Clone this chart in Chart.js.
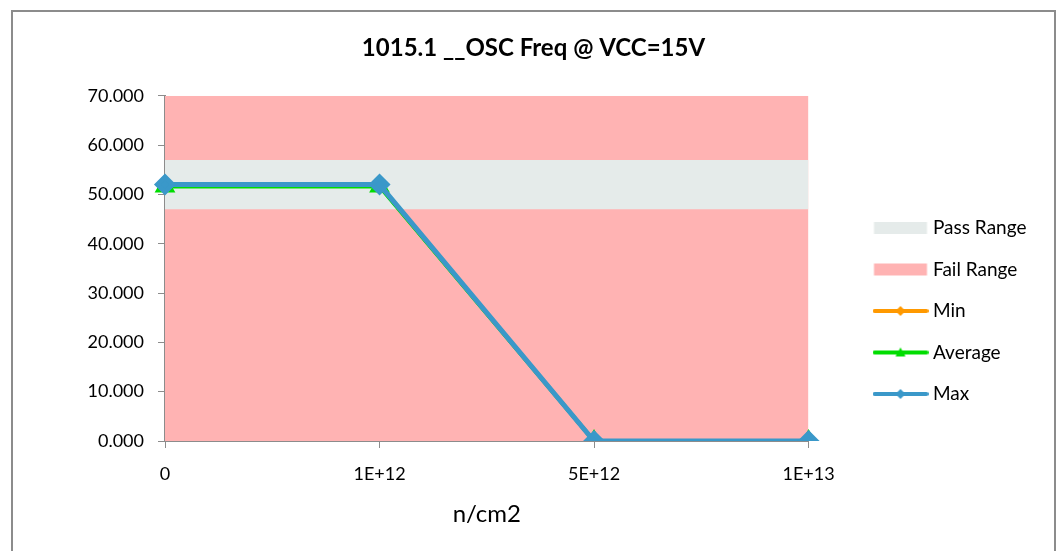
<!DOCTYPE html>
<html>
<head>
<meta charset="utf-8">
<script src="https://cdn.jsdelivr.net/npm/chart.js@4.4.1/dist/chart.umd.min.js"></script>
<style>
  html, body { margin: 0; padding: 0; background: #fff; }
  #wrap { position: relative; width: 1056px; height: 551px; overflow: hidden; }
  #frame { position: absolute; left: 11px; top: 10px; width: 1041px; height: 560px;
           border: 2px solid #8c8c8c; pointer-events: none; }
</style>
</head>
<body>
<div id="wrap">
  <canvas id="chart" width="1056" height="551"></canvas>
  <div id="frame"></div>
</div>
<script>
// data
var categories = ["0", "1E+12", "5E+12", "1E+13"];
var passLow = [47, 47, 47, 47];
var passHigh = [57, 57, 57, 57];
var failTop = [70, 70, 70, 70];
var minValues = [51.8, 51.8, 0, 0];
var avgValues = [51.6, 51.6, 0, 0];
var maxValues = [52.0, 52.0, 0, 0];

var FONT = "Lato, 'Open Sans', sans-serif";

// small images for the legend: line with marker, or a flat box
function legendLine(color, marker) {
	var c = document.createElement("canvas"), ctx;
	c.width = 56; c.height = 16;
	ctx = c.getContext("2d");
	ctx.strokeStyle = color;
	ctx.fillStyle = color;
	ctx.lineWidth = 4;
	ctx.lineCap = "round";
	ctx.beginPath();
	ctx.moveTo(2, 8);
	ctx.lineTo(54, 8);
	ctx.stroke();
	ctx.beginPath();
	if (marker === "triangle") {
		ctx.moveTo(28, 3);
		ctx.lineTo(33, 12);
		ctx.lineTo(23, 12);
	} else {
		ctx.moveTo(28, 3);
		ctx.lineTo(33, 8);
		ctx.lineTo(28, 13);
		ctx.lineTo(23, 8);
	}
	ctx.closePath();
	ctx.fill();
	return c;
}
function legendBox(color) {
	var c = document.createElement("canvas"), ctx;
	c.width = 56; c.height = 16;
	ctx = c.getContext("2d");
	ctx.fillStyle = color;
	ctx.fillRect(1.5, 2, 53, 12);
	return c;
}

var PASS = "#e5ebea", FAIL = "#ffb3b3", ORANGE = "#ff9900", GREEN = "#00dd00", BLUE = "#3a98c9";
var legendImages = [legendBox(PASS), legendBox(FAIL), legendLine(ORANGE, "diamond"),
	legendLine(GREEN, "triangle"), legendLine(BLUE, "diamond")];

// put the legend and title where the reference has them, without moving the plot
var placeBoxes = {
	id: "placeBoxes",
	afterLayout: function (chart) {
		var l = chart.legend, t = chart.titleBlock, w = l.width, h = l.height;
		l.left = 855; l.right = 855 + w;
		l.top = 196; l.bottom = 196 + h;
		t.left = 11; t.right = 1056; t.width = 1045;
	}
};

new Chart(document.getElementById("chart"), {
	type: "line",
	data: {
		labels: categories,
		datasets: [
			{ label: "Pass Range", data: passHigh, fill: { value: passLow[0] }, backgroundColor: PASS,
				borderWidth: 0, pointRadius: 0, order: 3 },
			{ label: "Fail Range", data: failTop, fill: "origin", backgroundColor: FAIL,
				borderWidth: 0, pointRadius: 0, order: 4 },
			{ label: "Min", data: minValues, borderColor: ORANGE, backgroundColor: ORANGE, borderWidth: 4,
				pointStyle: "rectRot", pointRadius: 6, fill: false, order: 2 },
			{ label: "Average", data: avgValues, borderColor: GREEN, backgroundColor: GREEN, borderWidth: 4,
				pointStyle: "triangle", pointRadius: 8, fill: false, order: 1 },
			{ label: "Max", data: maxValues, borderColor: BLUE, backgroundColor: BLUE, borderWidth: 5,
				pointStyle: "rectRot", pointRadius: 7.5, fill: false, order: 0 }
		]
	},
	plugins: [placeBoxes],
	options: {
		responsive: false,
		animation: false,
		layout: { padding: { left: 12, right: 66, top: 10, bottom: 0 } },
		elements: { line: { tension: 0 } },
		plugins: {
			title: {
				display: true,
				text: "1015.1 __OSC Freq @ VCC=15V",
				color: "#000",
				font: { family: FONT, size: 24, weight: "bold" },
				padding: { top: 24, bottom: 33 }
			},
			legend: {
				position: "right",
				align: "start",
				labels: {
					color: "#000",
					font: { family: FONT, size: 19 },
					usePointStyle: true,
					pointStyleWidth: 46,
					padding: 22.5,
					sort: function (a, b) { return a.datasetIndex - b.datasetIndex; },
					generateLabels: function (chart) {
						return chart.data.datasets.map(function (ds, i) {
							return { text: ds.label, datasetIndex: i, pointStyle: legendImages[i],
								fontColor: "#000", hidden: false, lineWidth: 0 };
						});
					}
				}
			},
			tooltip: { enabled: false }
		},
		scales: {
			x: {
				offset: false,
				grid: { drawOnChartArea: false, color: "#8c8c8c", tickLength: 7 },
				border: { color: "#8c8c8c", width: 2 },
				ticks: { color: "#000", font: { family: FONT, size: 18 }, padding: 15, maxRotation: 0 },
				title: { display: true, text: "n/cm2", color: "#000",
					font: { family: FONT, size: 24 }, padding: { top: 0, bottom: 22 } },
				afterFit: function (scale) { scale.height = 110; }
			},
			y: {
				min: 0,
				max: 70,
				grid: { drawOnChartArea: false, color: "#8c8c8c", tickLength: 7 },
				border: { color: "#8c8c8c", width: 2 },
				ticks: { stepSize: 10, color: "#000", font: { family: FONT, size: 18 }, padding: 14,
					callback: function (v) { return v.toFixed(3); } },
				afterFit: function (scale) { scale.width = 153; }
			}
		}
	}
});
</script>
</body>
</html>
